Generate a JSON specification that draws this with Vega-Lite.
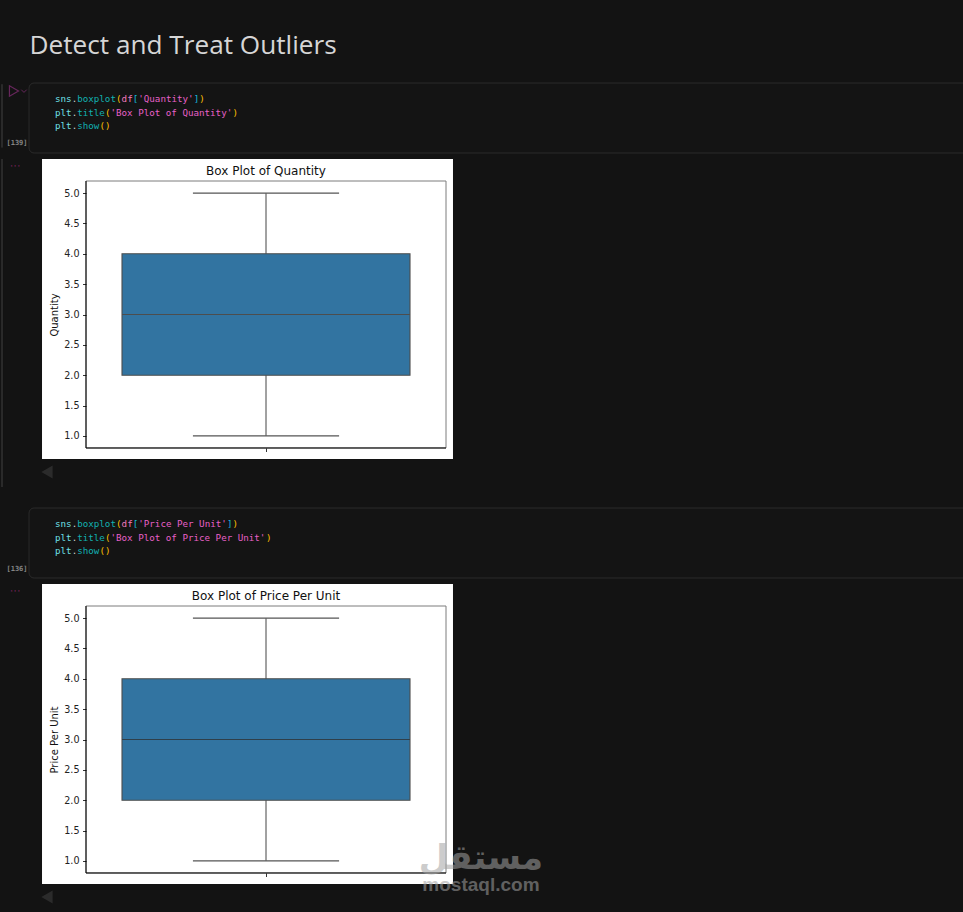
{
  "$schema": "https://vega.github.io/schema/vega-lite/v6.json",
  "background": "#131313",
  "padding": 0,
  "spacing": 0,
  "bounds": "flush",
  "config": {"view": {"stroke": null, "fill": null}, "concat": {"spacing": 0}},
  "datasets": {
    "code": [
      {"cell": 139, "line": 0, "col": 0, "token": "sns", "kind": "module"},
      {"cell": 139, "line": 0, "col": 3, "token": ".", "kind": "dot"},
      {"cell": 139, "line": 0, "col": 4, "token": "boxplot", "kind": "function"},
      {"cell": 139, "line": 0, "col": 11, "token": "(", "kind": "paren"},
      {"cell": 139, "line": 0, "col": 12, "token": "df", "kind": "variable"},
      {"cell": 139, "line": 0, "col": 14, "token": "[", "kind": "bracket"},
      {"cell": 139, "line": 0, "col": 15, "token": "'Quantity'", "kind": "string"},
      {"cell": 139, "line": 0, "col": 25, "token": "]", "kind": "bracket"},
      {"cell": 139, "line": 0, "col": 26, "token": ")", "kind": "paren"},
      {"cell": 139, "line": 1, "col": 0, "token": "plt", "kind": "module"},
      {"cell": 139, "line": 1, "col": 3, "token": ".", "kind": "dot"},
      {"cell": 139, "line": 1, "col": 4, "token": "title", "kind": "function"},
      {"cell": 139, "line": 1, "col": 9, "token": "(", "kind": "paren"},
      {"cell": 139, "line": 1, "col": 10, "token": "'Box Plot of Quantity'", "kind": "string"},
      {"cell": 139, "line": 1, "col": 32, "token": ")", "kind": "paren"},
      {"cell": 139, "line": 2, "col": 0, "token": "plt", "kind": "module"},
      {"cell": 139, "line": 2, "col": 3, "token": ".", "kind": "dot"},
      {"cell": 139, "line": 2, "col": 4, "token": "show", "kind": "function"},
      {"cell": 139, "line": 2, "col": 8, "token": "()", "kind": "paren"},
      {"cell": 136, "line": 0, "col": 0, "token": "sns", "kind": "module"},
      {"cell": 136, "line": 0, "col": 3, "token": ".", "kind": "dot"},
      {"cell": 136, "line": 0, "col": 4, "token": "boxplot", "kind": "function"},
      {"cell": 136, "line": 0, "col": 11, "token": "(", "kind": "paren"},
      {"cell": 136, "line": 0, "col": 12, "token": "df", "kind": "variable"},
      {"cell": 136, "line": 0, "col": 14, "token": "[", "kind": "bracket"},
      {"cell": 136, "line": 0, "col": 15, "token": "'Price Per Unit'", "kind": "string"},
      {"cell": 136, "line": 0, "col": 31, "token": "]", "kind": "bracket"},
      {"cell": 136, "line": 0, "col": 32, "token": ")", "kind": "paren"},
      {"cell": 136, "line": 1, "col": 0, "token": "plt", "kind": "module"},
      {"cell": 136, "line": 1, "col": 3, "token": ".", "kind": "dot"},
      {"cell": 136, "line": 1, "col": 4, "token": "title", "kind": "function"},
      {"cell": 136, "line": 1, "col": 9, "token": "(", "kind": "paren"},
      {"cell": 136, "line": 1, "col": 10, "token": "'Box Plot of Price Per Unit'", "kind": "string"},
      {"cell": 136, "line": 1, "col": 38, "token": ")", "kind": "paren"},
      {"cell": 136, "line": 2, "col": 0, "token": "plt", "kind": "module"},
      {"cell": 136, "line": 2, "col": 3, "token": ".", "kind": "dot"},
      {"cell": 136, "line": 2, "col": 4, "token": "show", "kind": "function"},
      {"cell": 136, "line": 2, "col": 8, "token": "()", "kind": "paren"}
    ]
  },
  "vconcat": [
    {
      "width": 963,
      "height": 159,
      "data": {"values": [{}]},
      "layer": [
        {
          "mark": {"type": "rect", "fill": "#141414", "stroke": "#2a2a2a", "cornerRadius": 5, "clip": true},
          "encoding": {
            "x": {"datum": -4.68, "type": "quantitative", "axis": null, "scale": {"domain": [-9.91, 163.6], "nice": false, "zero": false}},
            "x2": {"datum": 175},
            "y": {"datum": -1.185, "type": "quantitative", "axis": null, "scale": {"domain": [4.444, -7.333], "nice": false, "zero": false}},
            "y2": {"datum": 4}
          }
        },
        {
          "mark": {"type": "rule", "stroke": "#2a2a2a", "strokeWidth": 2},
          "encoding": {
            "x": {"datum": -9.55, "type": "quantitative", "axis": null},
            "y": {"datum": -1.1, "type": "quantitative", "axis": null},
            "y2": {"datum": 3.6}
          }
        },
        {
          "mark": {"type": "text", "text": "Detect and Treat Outliers", "align": "left", "baseline": "middle", "font": "Open Sans", "fontSize": 26.2, "color": "#d6d6d6"},
          "encoding": {
            "x": {"datum": -4.6, "type": "quantitative", "axis": null},
            "y": {"datum": -3.92, "type": "quantitative", "axis": null}
          }
        },
        {
          "mark": {"type": "point", "shape": "triangle-right", "filled": false, "size": 110, "stroke": "#8a2f7a", "strokeWidth": 1.2},
          "encoding": {
            "x": {"datum": -7.39, "type": "quantitative", "axis": null},
            "y": {"datum": -0.59, "type": "quantitative", "axis": null}
          }
        },
        {
          "mark": {"type": "point", "shape": "M-1,-0.5L0,0.5L1,-0.5", "filled": false, "size": 30, "stroke": "#8a2f7a", "strokeWidth": 1},
          "encoding": {
            "x": {"datum": -5.59, "type": "quantitative", "axis": null},
            "y": {"datum": -0.59, "type": "quantitative", "axis": null}
          }
        },
        {
          "mark": {"type": "text", "text": "[139]", "align": "center", "baseline": "middle", "font": "DejaVu Sans Mono", "fontSize": 7, "fontWeight": "bold", "color": "#858585"},
          "encoding": {
            "x": {"datum": -6.85, "type": "quantitative", "axis": null},
            "y": {"datum": 3.26, "type": "quantitative", "axis": null}
          }
        },
        {
          "data": {"name": "code"},
          "transform": [{"filter": "datum.cell === 139"}],
          "mark": {"type": "text", "align": "left", "baseline": "middle", "font": "DejaVu Sans Mono", "fontSize": 9.2},
          "encoding": {
            "x": {"field": "col", "type": "quantitative", "axis": null},
            "y": {"field": "line", "type": "quantitative", "axis": null},
            "text": {"field": "token"},
            "color": {
              "field": "kind",
              "legend": null,
              "scale": {
                "domain": ["module", "dot", "function", "paren", "variable", "bracket", "string"],
                "range": ["#6fe0e8", "#d0d0d0", "#12b0b0", "#ffc000", "#ee78bc", "#14b8dc", "#e860c8"]
              }
            }
          }
        }
      ]
    },
    {
      "width": 963,
      "height": 300,
      "data": {"values": [{"metric": "Quantity", "q1": 2, "median": 3, "q3": 4, "whisker_low": 1, "whisker_high": 5}]},
      "layer": [
        {
          "mark": {"type": "rect", "fill": "#ffffff"},
          "encoding": {
            "x": {"datum": -0.6222, "type": "quantitative", "axis": {"orient": "bottom", "offset": -11, "values": [0], "labels": false, "domain": false, "grid": false, "title": null, "tickSize": 3.5, "tickWidth": 0.8, "tickColor": "#000000", "zindex": 1}, "scale": {"domain": [-0.7389, 1.9361], "nice": false, "zero": false}},
            "x2": {"datum": 0.5194},
            "y": {"datum": 0.6187, "type": "quantitative", "axis": {"orient": "left", "offset": -86, "values": [1, 1.5, 2, 2.5, 3, 3.5, 4, 4.5, 5], "tickCount": 20, "labelOverlap": false, "format": ".1f", "domain": false, "grid": false, "title": "Quantity", "titleFont": "DejaVu Sans", "titleFontSize": 10, "titleFontWeight": "normal", "titleColor": "#111111", "titleY": 155.5, "labelFont": "DejaVu Sans", "labelFontSize": 9.6, "labelColor": "#222222", "labelPadding": 3.5, "tickSize": 3.5, "tickWidth": 0.8, "tickColor": "#000000", "zindex": 1}, "scale": {"domain": [0.6187, 5.5626], "nice": false, "zero": false}},
            "y2": {"datum": 5.5626}
          }
        },
        {
          "mark": {"type": "rect", "fill": null, "stroke": "#7c7c7c", "strokeWidth": 1},
          "encoding": {
            "x": {"datum": -0.5, "type": "quantitative"},
            "x2": {"datum": 0.5},
            "y": {"datum": 0.8, "type": "quantitative"},
            "y2": {"datum": 5.2}
          }
        },
        {
          "mark": {"type": "rule", "stroke": "#000000", "strokeWidth": 1},
          "encoding": {
            "x": {"datum": -0.5, "type": "quantitative"},
            "y": {"datum": 0.8, "type": "quantitative"},
            "y2": {"datum": 5.2}
          }
        },
        {
          "mark": {"type": "rule", "stroke": "#000000", "strokeWidth": 1},
          "encoding": {
            "x": {"datum": -0.5, "type": "quantitative"},
            "x2": {"datum": 0.5},
            "y": {"datum": 0.8, "type": "quantitative"}
          }
        },
        {
          "mark": {"type": "rule", "stroke": "#555555", "strokeWidth": 1.1},
          "encoding": {
            "x": {"datum": 0, "type": "quantitative"},
            "y": {"field": "whisker_low", "type": "quantitative"},
            "y2": {"field": "whisker_high"}
          }
        },
        {
          "mark": {"type": "rule", "stroke": "#555555", "strokeWidth": 1.1},
          "encoding": {
            "x": {"datum": -0.203, "type": "quantitative"},
            "x2": {"datum": 0.203},
            "y": {"field": "whisker_low", "type": "quantitative"}
          }
        },
        {
          "mark": {"type": "rule", "stroke": "#555555", "strokeWidth": 1.1},
          "encoding": {
            "x": {"datum": -0.203, "type": "quantitative"},
            "x2": {"datum": 0.203},
            "y": {"field": "whisker_high", "type": "quantitative"}
          }
        },
        {
          "mark": {"type": "rect", "fill": "#3274a1", "stroke": "#4d4d4d", "strokeWidth": 1.1},
          "encoding": {
            "x": {"datum": -0.4, "type": "quantitative"},
            "x2": {"datum": 0.4},
            "y": {"field": "q1", "type": "quantitative"},
            "y2": {"field": "q3"}
          }
        },
        {
          "mark": {"type": "rule", "stroke": "#4d4d4d", "strokeWidth": 1.1},
          "encoding": {
            "x": {"datum": -0.4, "type": "quantitative"},
            "x2": {"datum": 0.4},
            "y": {"field": "median", "type": "quantitative"}
          }
        },
        {
          "mark": {"type": "text", "text": "Box Plot of Quantity", "align": "center", "baseline": "middle", "font": "DejaVu Sans", "fontSize": 12, "color": "#111111"},
          "encoding": {
            "x": {"datum": 0, "type": "quantitative"},
            "y": {"datum": 5.365, "type": "quantitative"}
          }
        },
        {
          "mark": {"type": "text", "text": "···", "align": "center", "baseline": "middle", "font": "DejaVu Sans Mono", "fontSize": 6, "fontWeight": "bold", "color": "#a02878"},
          "encoding": {
            "x": {"datum": -0.697, "type": "quantitative"},
            "y": {"datum": 5.44, "type": "quantitative"}
          }
        },
        {
          "mark": {"type": "rule", "stroke": "#2a2a2a", "strokeWidth": 2},
          "encoding": {
            "x": {"datum": -0.7333, "type": "quantitative"},
            "y": {"datum": 0.6187, "type": "quantitative"},
            "y2": {"datum": 5.5626}
          }
        }
      ]
    },
    {
      "width": 963,
      "height": 125,
      "data": {"values": [{}]},
      "layer": [
        {
          "mark": {"type": "rect", "fill": "#141414", "stroke": "#2a2a2a", "cornerRadius": 5, "clip": true},
          "encoding": {
            "x": {"datum": -4.68, "type": "quantitative", "axis": null, "scale": {"domain": [-9.91, 163.6], "nice": false, "zero": false}},
            "x2": {"datum": 175},
            "y": {"datum": -1.185, "type": "quantitative", "axis": null, "scale": {"domain": [4.444, -4.815], "nice": false, "zero": false}},
            "y2": {"datum": 4}
          }
        },
        {
          "mark": {"type": "rule", "stroke": "#2a2a2a", "strokeWidth": 2},
          "encoding": {
            "x": {"datum": -9.55, "type": "quantitative", "axis": null},
            "y": {"datum": -4.815, "type": "quantitative", "axis": null},
            "y2": {"datum": -2.74}
          }
        },
        {
          "mark": {"type": "point", "shape": "triangle-left", "filled": true, "size": 170, "fill": "#363636", "strokeWidth": 0},
          "encoding": {
            "x": {"datum": -1.44, "type": "quantitative", "axis": null},
            "y": {"datum": -3.85, "type": "quantitative", "axis": null}
          }
        },
        {
          "mark": {"type": "text", "text": "[136]", "align": "center", "baseline": "middle", "font": "DejaVu Sans Mono", "fontSize": 7, "fontWeight": "bold", "color": "#858585"},
          "encoding": {
            "x": {"datum": -6.85, "type": "quantitative", "axis": null},
            "y": {"datum": 3.33, "type": "quantitative", "axis": null}
          }
        },
        {
          "data": {"name": "code"},
          "transform": [{"filter": "datum.cell === 136"}],
          "mark": {"type": "text", "align": "left", "baseline": "middle", "font": "DejaVu Sans Mono", "fontSize": 9.2},
          "encoding": {
            "x": {"field": "col", "type": "quantitative", "axis": null},
            "y": {"field": "line", "type": "quantitative", "axis": null},
            "text": {"field": "token"},
            "color": {
              "field": "kind",
              "legend": null,
              "scale": {
                "domain": ["module", "dot", "function", "paren", "variable", "bracket", "string"],
                "range": ["#6fe0e8", "#d0d0d0", "#12b0b0", "#ffc000", "#ee78bc", "#14b8dc", "#e860c8"]
              }
            }
          }
        }
      ]
    },
    {
      "width": 963,
      "height": 300,
      "data": {"values": [{"metric": "Price Per Unit", "q1": 2, "median": 3, "q3": 4, "whisker_low": 1, "whisker_high": 5}]},
      "layer": [
        {
          "mark": {"type": "rect", "fill": "#ffffff"},
          "encoding": {
            "x": {"datum": -0.6222, "type": "quantitative", "axis": {"orient": "bottom", "offset": -11, "values": [0], "labels": false, "domain": false, "grid": false, "title": null, "tickSize": 3.5, "tickWidth": 0.8, "tickColor": "#000000", "zindex": 1}, "scale": {"domain": [-0.7389, 1.9361], "nice": false, "zero": false}},
            "x2": {"datum": 0.5194},
            "y": {"datum": 0.6187, "type": "quantitative", "axis": {"orient": "left", "offset": -86, "values": [1, 1.5, 2, 2.5, 3, 3.5, 4, 4.5, 5], "tickCount": 20, "labelOverlap": false, "format": ".1f", "domain": false, "grid": false, "title": "Price Per Unit", "titleFont": "DejaVu Sans", "titleFontSize": 10, "titleFontWeight": "normal", "titleColor": "#111111", "titleY": 155.5, "labelFont": "DejaVu Sans", "labelFontSize": 9.6, "labelColor": "#222222", "labelPadding": 3.5, "tickSize": 3.5, "tickWidth": 0.8, "tickColor": "#000000", "zindex": 1}, "scale": {"domain": [0.6187, 5.5626], "nice": false, "zero": false}},
            "y2": {"datum": 5.5626}
          }
        },
        {
          "mark": {"type": "rect", "fill": null, "stroke": "#7c7c7c", "strokeWidth": 1},
          "encoding": {
            "x": {"datum": -0.5, "type": "quantitative"},
            "x2": {"datum": 0.5},
            "y": {"datum": 0.8, "type": "quantitative"},
            "y2": {"datum": 5.2}
          }
        },
        {
          "mark": {"type": "rule", "stroke": "#000000", "strokeWidth": 1},
          "encoding": {
            "x": {"datum": -0.5, "type": "quantitative"},
            "y": {"datum": 0.8, "type": "quantitative"},
            "y2": {"datum": 5.2}
          }
        },
        {
          "mark": {"type": "rule", "stroke": "#000000", "strokeWidth": 1},
          "encoding": {
            "x": {"datum": -0.5, "type": "quantitative"},
            "x2": {"datum": 0.5},
            "y": {"datum": 0.8, "type": "quantitative"}
          }
        },
        {
          "mark": {"type": "rule", "stroke": "#555555", "strokeWidth": 1.1},
          "encoding": {
            "x": {"datum": 0, "type": "quantitative"},
            "y": {"field": "whisker_low", "type": "quantitative"},
            "y2": {"field": "whisker_high"}
          }
        },
        {
          "mark": {"type": "rule", "stroke": "#555555", "strokeWidth": 1.1},
          "encoding": {
            "x": {"datum": -0.203, "type": "quantitative"},
            "x2": {"datum": 0.203},
            "y": {"field": "whisker_low", "type": "quantitative"}
          }
        },
        {
          "mark": {"type": "rule", "stroke": "#555555", "strokeWidth": 1.1},
          "encoding": {
            "x": {"datum": -0.203, "type": "quantitative"},
            "x2": {"datum": 0.203},
            "y": {"field": "whisker_high", "type": "quantitative"}
          }
        },
        {
          "mark": {"type": "rect", "fill": "#3274a1", "stroke": "#4d4d4d", "strokeWidth": 1.1},
          "encoding": {
            "x": {"datum": -0.4, "type": "quantitative"},
            "x2": {"datum": 0.4},
            "y": {"field": "q1", "type": "quantitative"},
            "y2": {"field": "q3"}
          }
        },
        {
          "mark": {"type": "rule", "stroke": "#2f3f4a", "strokeWidth": 1.1},
          "encoding": {
            "x": {"datum": -0.4, "type": "quantitative"},
            "x2": {"datum": 0.4},
            "y": {"field": "median", "type": "quantitative"}
          }
        },
        {
          "mark": {"type": "text", "text": "Box Plot of Price Per Unit", "align": "center", "baseline": "middle", "font": "DejaVu Sans", "fontSize": 12, "color": "#111111"},
          "encoding": {
            "x": {"datum": 0, "type": "quantitative"},
            "y": {"datum": 5.365, "type": "quantitative"}
          }
        },
        {
          "mark": {"type": "text", "text": "···", "align": "center", "baseline": "middle", "font": "DejaVu Sans Mono", "fontSize": 6, "fontWeight": "bold", "color": "#a02878"},
          "encoding": {
            "x": {"datum": -0.697, "type": "quantitative"},
            "y": {"datum": 5.44, "type": "quantitative"}
          }
        },
        {
          "mark": {"type": "text", "text": "مستقل", "align": "center", "baseline": "middle", "font": "DejaVu Sans", "fontSize": 34, "fontWeight": "bold", "color": "#a2a2a2", "opacity": 0.54},
          "encoding": {
            "x": {"datum": 0.597, "type": "quantitative"},
            "y": {"datum": 1.03, "type": "quantitative"}
          }
        },
        {
          "mark": {"type": "text", "text": "mostaql.com", "align": "center", "baseline": "middle", "font": "Liberation Sans", "fontSize": 19, "fontWeight": "bold", "color": "#a2a2a2", "opacity": 0.54},
          "encoding": {
            "x": {"datum": 0.597, "type": "quantitative"},
            "y": {"datum": 0.6, "type": "quantitative"}
          }
        }
      ]
    },
    {
      "width": 963,
      "height": 28,
      "data": {"values": [{}]},
      "mark": {"type": "point", "shape": "triangle-left", "filled": true, "size": 170, "fill": "#363636", "strokeWidth": 0},
      "encoding": {
        "x": {"datum": -1.44, "type": "quantitative", "axis": null, "scale": {"domain": [-9.91, 163.6], "nice": false, "zero": false}},
        "y": {"datum": 0.536, "type": "quantitative", "axis": null, "scale": {"domain": [0, 1], "nice": false, "zero": false}}
      }
    }
  ]
}
